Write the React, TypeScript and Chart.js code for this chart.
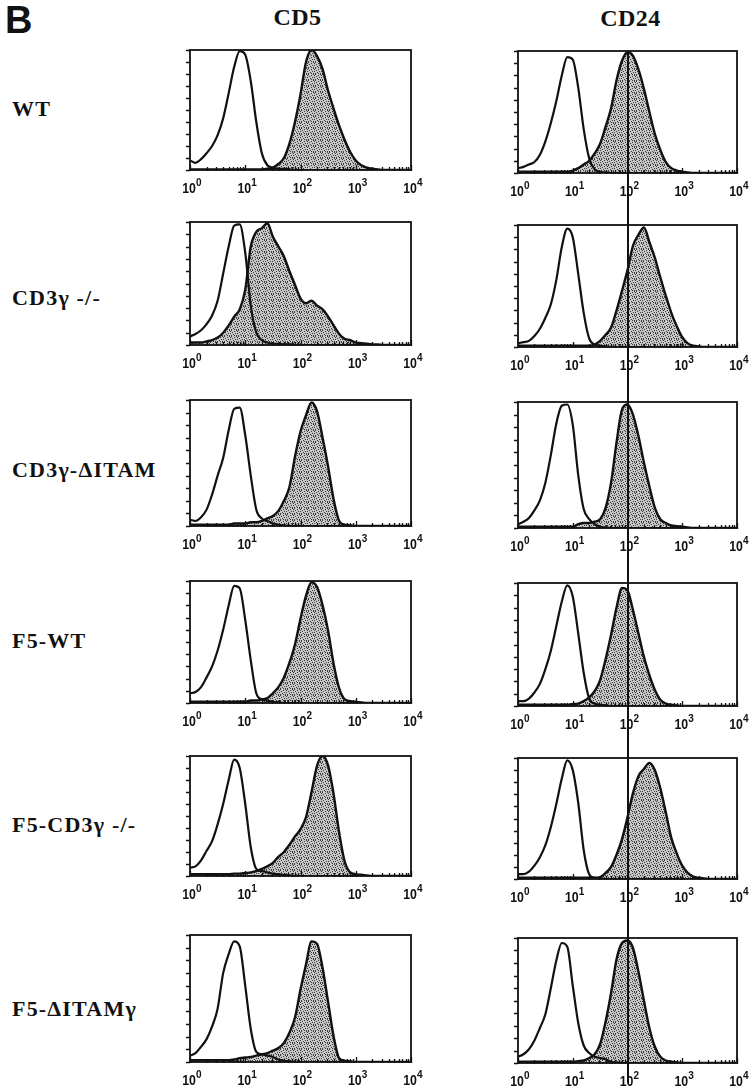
import React, { useEffect, useRef } from 'react';
import { Chart, registerables } from 'chart.js';

Chart.register(...registerables);

// ---------- data ----------
// histogram bins: log10 of fluorescence intensity (10^0 .. 10^4)
const logBins = [
  0.0, 0.1, 0.2, 0.3, 0.4, 0.5, 0.6, 0.7, 0.8, 0.9,
  1.0, 1.1, 1.2, 1.3, 1.4, 1.5, 1.6, 1.7, 1.8, 1.9,
  2.0, 2.1, 2.2, 2.3, 2.4, 2.5, 2.6, 2.7, 2.8, 2.9,
  3.0, 3.1, 3.2, 3.3, 3.4, 3.5, 3.6, 3.7, 3.8, 3.9, 4.0,
];

const columnTitles = ['CD5', 'CD24'];
const rowLabels = ['WT', 'CD3γ -/-', 'CD3γ-ΔITAM', 'F5-WT', 'F5-CD3γ -/-', 'F5-ΔITAMγ'];
const decadeValues = [1, 10, 100, 1000, 10000];
const decadeExponents = ['0', '1', '2', '3', '4'];
const countTicks = [0, 10, 20, 30, 40, 50, 60, 70, 80, 90, 100];
const cd24Marker = 100;

// relative cell counts (% of peak); "control" = open curve, "stain" = shaded curve
const wtCd5Control = [8, 6, 9, 14, 20, 29, 43, 64, 86, 99, 96, 74, 40, 14, 4, 2, 1, 1, 0.5, 0, 0, 0, 0, 0, 0, 0, 0, 0, 0, 0, 0, 0, 0, 0, 0, 0, 0, 0, 0, 0, 0];
const wtCd5Stain = [0.5, 0.5, 0.5, 0.5, 0.5, 0.5, 0.5, 0.5, 0.5, 0.5, 0.5, 0.5, 0.5, 0.5, 1, 2, 5, 10, 22, 40, 63, 90, 100, 95, 84, 66, 51, 37, 25, 15, 8, 4, 2, 1, 0.5, 0, 0, 0, 0, 0, 0];
const wtCd24Control = [4, 5, 7, 9, 15, 26, 41, 59, 80, 95, 93, 70, 36, 12, 3, 1, 0.5, 0, 0, 0, 0, 0, 0, 0, 0, 0, 0, 0, 0, 0, 0, 0, 0, 0, 0, 0, 0, 0, 0, 0, 0];
const wtCd24Stain = [1, 1, 1, 1, 1, 1, 1, 1, 1, 1, 2, 4, 7, 10, 16, 24, 38, 53, 76, 92, 99, 96, 85, 69, 50, 32, 19, 9, 4, 2, 1, 0.5, 0, 0, 0, 0, 0, 0, 0, 0, 0];

const cd3KoCd5Control = [7, 9, 12, 17, 24, 36, 58, 80, 97, 98, 75, 32, 10, 4, 2, 1, 1, 0.5, 0.5, 0, 0, 0, 0, 0, 0, 0, 0, 0, 0, 0, 0, 0, 0, 0, 0, 0, 0, 0, 0, 0, 0];
const cd3KoCd5Stain = [2, 2, 2, 3, 4, 6, 10, 16, 23, 29, 45, 80, 92, 95, 99, 88, 80, 72, 60, 49, 38, 34, 36, 32, 29, 23, 16, 9, 5, 4, 2, 1.5, 1, 0.5, 0.5, 0, 0, 0, 0, 0, 0];
const cd3KoCd24Control = [3, 4, 5, 9, 15, 24, 35, 55, 82, 97, 90, 60, 28, 7, 2, 1, 0.5, 0, 0, 0, 0, 0, 0, 0, 0, 0, 0, 0, 0, 0, 0, 0, 0, 0, 0, 0, 0, 0, 0, 0, 0];
const cd3KoCd24Stain = [1, 1, 1, 1, 1, 1, 1, 1, 1, 1, 1, 1, 1, 1, 2, 5, 10, 16, 30, 46, 63, 83, 92, 98, 86, 73, 57, 42, 28, 17, 8, 3, 1, 0.5, 0, 0, 0, 0, 0, 0, 0];

const itamCd5Control = [5, 4, 7, 13, 25, 40, 54, 76, 93, 94, 72, 40, 13, 6, 4, 2, 1, 0.5, 0, 0, 0, 0, 0, 0, 0, 0, 0, 0, 0, 0, 0, 0, 0, 0, 0, 0, 0, 0, 0, 0, 0];
const itamCd5Stain = [1, 1, 1, 1, 1, 1, 1, 1, 2, 2, 2, 3, 3, 4, 6, 8, 12, 20, 31, 55, 75, 88, 98, 91, 70, 47, 21, 4, 1, 0.5, 0, 0, 0, 0, 0, 0, 0, 0, 0, 0, 0];
const itamCd24Control = [3, 5, 8, 14, 22, 36, 58, 83, 97, 98, 82, 42, 15, 7, 3, 1, 0.5, 0, 0, 0, 0, 0, 0, 0, 0, 0, 0, 0, 0, 0, 0, 0, 0, 0, 0, 0, 0, 0, 0, 0, 0];
const itamCd24Stain = [1, 1, 1, 1, 1, 1, 1, 1, 1, 1, 1, 3, 4, 4, 5, 7, 16, 36, 68, 94, 98, 90, 73, 52, 33, 16, 7, 4, 2, 1.5, 1, 0.5, 0, 0, 0, 0, 0, 0, 0, 0, 0];

const f5WtCd5Control = [8, 9, 13, 21, 30, 43, 60, 80, 96, 94, 68, 35, 8, 3, 2, 1, 0.5, 0, 0, 0, 0, 0, 0, 0, 0, 0, 0, 0, 0, 0, 0, 0, 0, 0, 0, 0, 0, 0, 0, 0, 0];
const f5WtCd5Stain = [1, 1, 1, 1, 1, 1, 1, 1, 1, 1, 1, 2, 2, 3, 4, 8, 13, 21, 33, 48, 69, 88, 99, 95, 80, 59, 32, 12, 3, 1.5, 1, 0.5, 0, 0, 0, 0, 0, 0, 0, 0, 0];
const f5WtCd24Control = [4, 4, 6, 11, 18, 30, 45, 65, 85, 98, 89, 59, 27, 6, 2, 1, 0.5, 0, 0, 0, 0, 0, 0, 0, 0, 0, 0, 0, 0, 0, 0, 0, 0, 0, 0, 0, 0, 0, 0, 0, 0];
const f5WtCd24Stain = [1, 1, 1, 1, 1, 1, 1, 1, 1, 1, 1.5, 2, 4, 7, 12, 21, 38, 58, 80, 96, 94, 78, 59, 40, 25, 13, 5, 2, 1, 0.5, 0, 0, 0, 0, 0, 0, 0, 0, 0, 0, 0];

const f5KoCd5Control = [7, 8, 13, 21, 29, 43, 60, 80, 97, 90, 60, 24, 6, 4, 3, 2, 1.5, 1, 0.5, 0, 0, 0, 0, 0, 0, 0, 0, 0, 0, 0, 0, 0, 0, 0, 0, 0, 0, 0, 0, 0, 0];
const f5KoCd5Stain = [1.5, 1.5, 1.5, 1.5, 1.5, 1.5, 1.5, 1.5, 2, 2, 2.5, 3, 4, 6, 8, 11, 16, 20, 26, 33, 39, 49, 70, 92, 100, 92, 68, 36, 12, 3, 1.5, 1, 0.5, 0, 0, 0, 0, 0, 0, 0, 0];
const f5KoCd24Control = [4, 4, 6, 11, 18, 28, 43, 62, 83, 98, 90, 63, 24, 4, 1, 0.5, 0, 0, 0, 0, 0, 0, 0, 0, 0, 0, 0, 0, 0, 0, 0, 0, 0, 0, 0, 0, 0, 0, 0, 0, 0];
const f5KoCd24Stain = [1, 1, 1, 1, 1, 1, 1, 1, 1, 1, 1, 1, 1, 1, 1, 1.5, 5, 10, 20, 33, 51, 71, 85, 91, 96, 90, 75, 55, 34, 21, 11, 5, 2, 1, 0.5, 0, 0, 0, 0, 0, 0];

const f5ItamCd5Control = [5, 7, 12, 18, 28, 42, 70, 85, 95, 91, 60, 26, 8, 6, 5, 4, 2, 1, 0.5, 0, 0, 0, 0, 0, 0, 0, 0, 0, 0, 0, 0, 0, 0, 0, 0, 0, 0, 0, 0, 0, 0];
const f5ItamCd5Stain = [1.5, 1.5, 1.5, 1.5, 1.5, 1.5, 1.5, 1.5, 2, 3, 3.5, 4, 5, 6, 7, 9, 11, 15, 23, 35, 57, 77, 95, 93, 74, 47, 20, 3, 1, 0.5, 0, 0, 0, 0, 0, 0, 0, 0, 0, 0, 0];
const f5ItamCd24Control = [5, 7, 11, 18, 28, 39, 60, 82, 96, 93, 62, 32, 14, 8, 5, 4, 3, 1, 0.5, 0, 0, 0, 0, 0, 0, 0, 0, 0, 0, 0, 0, 0, 0, 0, 0, 0, 0, 0, 0, 0, 0];
const f5ItamCd24Stain = [1, 1, 1, 1, 1, 1, 1, 1, 1, 1, 1, 1.5, 2, 4, 7, 15, 33, 56, 83, 96, 98, 92, 73, 50, 28, 13, 5, 2, 1, 0.5, 0, 0, 0, 0, 0, 0, 0, 0, 0, 0, 0];

const panelSeries = [
  [wtCd5Control, wtCd5Stain, wtCd24Control, wtCd24Stain],
  [cd3KoCd5Control, cd3KoCd5Stain, cd3KoCd24Control, cd3KoCd24Stain],
  [itamCd5Control, itamCd5Stain, itamCd24Control, itamCd24Stain],
  [f5WtCd5Control, f5WtCd5Stain, f5WtCd24Control, f5WtCd24Stain],
  [f5KoCd5Control, f5KoCd5Stain, f5KoCd24Control, f5KoCd24Stain],
  [f5ItamCd5Control, f5ItamCd5Stain, f5ItamCd24Control, f5ItamCd24Stain],
];

// ---------- layout (page pixels) ----------
const BOX_LEFT = [190, 518];
const BOX_RIGHT = [411, 737];
const BOX_TOP = [[50, 51], [222, 225], [400, 402], [581, 583], [756, 758], [935, 938]];
const BOX_BOTTOM = [[170, 173], [345, 347], [526, 528], [703, 706], [876, 879], [1062, 1063]];
const LABEL_BASELINE = [116, 305, 477, 648, 832, 1016];
const PAGE_H = 1091;
const SIDE_PAD = 22;
const TOP_PAD = 12;

function makeStipple(ctx: CanvasRenderingContext2D) {
  const c = document.createElement('canvas');
  c.width = 7;
  c.height = 6;
  const g = c.getContext('2d')!;
  g.fillStyle = '#c6c6c6';
  g.fillRect(0, 0, 7, 6);
  g.fillStyle = '#3c3c3c';
  const dots = [[0, 0], [3, 1], [5, 0], [1, 2], [6, 3], [4, 3], [2, 4], [0, 5], [5, 5], [3, 5], [6, 1]];
  dots.forEach(([a, b]) => g.fillRect(a, b, 1, 1));
  return ctx.createPattern(c, 'repeat');
}

const framePlugin = {
  id: 'panelFrame',
  afterDatasetsDraw(chart: any, _args: any, opts: any) {
    const { ctx, chartArea: a, scales } = chart;
    const xs = scales.x;
    const ys = scales.y;
    ctx.save();
    ctx.strokeStyle = '#111';
    ctx.fillStyle = '#111';
    // frame
    ctx.lineWidth = 1.8;
    ctx.strokeRect(a.left, a.top, a.right - a.left, a.bottom - a.top);
    // left count ticks (outward)
    ctx.lineWidth = 1.3;
    ctx.beginPath();
    countTicks.forEach((v) => {
      const py = Math.round(ys.getPixelForValue(v)) + 0.5;
      ctx.moveTo(a.left - 4, py);
      ctx.lineTo(a.left, py);
    });
    ctx.stroke();
    // bottom log ticks (inward)
    ctx.beginPath();
    for (let d = 0; d < 4; d++) {
      for (let m = 1; m <= 9; m++) {
        const v = m * decadeValues[d];
        const px = Math.round(xs.getPixelForValue(v)) + 0.5;
        const len = m === 1 ? 5 : 3;
        ctx.moveTo(px, a.bottom + 1);
        ctx.lineTo(px, a.bottom - len);
      }
    }
    const pxEnd = Math.round(xs.getPixelForValue(decadeValues[4])) + 0.5;
    ctx.moveTo(pxEnd, a.bottom + 1);
    ctx.lineTo(pxEnd, a.bottom - 5);
    ctx.stroke();
    // tick labels 10^k
    decadeValues.forEach((v, k) => {
      const px = xs.getPixelForValue(v);
      ctx.save();
      ctx.translate(px - 1, a.bottom + 23);
      ctx.scale(0.88, 1);
      ctx.font = 'bold 14px "Liberation Sans"';
      ctx.textAlign = 'center';
      ctx.textBaseline = 'alphabetic';
      ctx.fillText('10', 0, 0);
      ctx.restore();
      ctx.font = 'bold 10px "Liberation Sans"';
      ctx.textAlign = 'left';
      ctx.fillText(decadeExponents[k], px + 6, a.bottom + 16);
    });
    // vertical marker on CD24 column
    if (opts.col === 1) {
      const vx = Math.round(xs.getPixelForValue(cd24Marker));
      const y0 = opts.row === 0 ? a.top : 0;
      const y1 = opts.row === 5 ? a.bottom + 20 : chart.height;
      ctx.lineWidth = 2;
      ctx.beginPath();
      ctx.moveTo(vx, y0);
      ctx.lineTo(vx, y1);
      ctx.stroke();
    }
    ctx.restore();
  },
};

function Panel({ row, col }: { row: number; col: number }) {
  const ref = useRef<HTMLCanvasElement>(null);
  const boxTop = BOX_TOP[row][col];
  const boxBottom = BOX_BOTTOM[row][col];
  const canvasTop = boxTop - TOP_PAD;
  const nextTop = row < 5 ? BOX_TOP[row + 1][col] - TOP_PAD : PAGE_H;
  const height = nextTop - canvasTop;
  const canvasLeft = BOX_LEFT[col] - SIDE_PAD;
  const width = BOX_RIGHT[col] - BOX_LEFT[col] + 2 * SIDE_PAD;
  const bottomPad = height - TOP_PAD - (boxBottom - boxTop);

  useEffect(() => {
    const canvas = ref.current!;
    const ctx = canvas.getContext('2d')!;
    const control = panelSeries[row][col * 2];
    const stain = panelSeries[row][col * 2 + 1];
    const toPoints = (vals: number[]) => vals.map((y, i) => ({ x: Math.pow(10, logBins[i]), y }));
    const chart = new Chart(ctx, {
      type: 'line',
      data: {
        datasets: [
          {
            label: 'control',
            data: toPoints(control),
            borderColor: '#111',
            borderWidth: 2.2,
            pointRadius: 0,
            fill: false,
            cubicInterpolationMode: 'monotone',
          },
          {
            label: 'stain',
            data: toPoints(stain),
            borderColor: '#111',
            borderWidth: 2.4,
            pointRadius: 0,
            fill: 'origin',
            backgroundColor: makeStipple(ctx) as any,
            cubicInterpolationMode: 'monotone',
          },
        ],
      },
      options: {
        animation: false,
        responsive: false,
        maintainAspectRatio: false,
        events: [],
        layout: { padding: { left: SIDE_PAD, right: SIDE_PAD, top: TOP_PAD, bottom: bottomPad } },
        scales: {
          x: { type: 'logarithmic', min: 1, max: 10000, display: false },
          y: { type: 'linear', min: 0, max: 100, display: false },
        },
        plugins: {
          legend: { display: false },
          tooltip: { enabled: false },
          panelFrame: { row, col },
        } as any,
      },
      plugins: [framePlugin],
    } as any);
    return () => chart.destroy();
  }, [row, col, bottomPad]);

  return (
    <canvas
      ref={ref}
      width={width}
      height={height}
      style={{ position: 'absolute', left: canvasLeft, top: canvasTop, width, height }}
    />
  );
}

function TextAt({ text, x, baseline, size, family, align, spacing }: any) {
  const top = baseline - size * 0.84;
  const style: React.CSSProperties = {
    position: 'absolute',
    top,
    fontFamily: family,
    fontWeight: 'bold',
    fontSize: size,
    lineHeight: `${size}px`,
    whiteSpace: 'nowrap',
    letterSpacing: spacing || 0,
    color: '#111',
  };
  if (align === 'center') {
    style.left = x - 100;
    style.width = 200;
    style.textAlign = 'center';
  } else {
    style.left = x;
  }
  return <div style={style}>{text}</div>;
}

export default function App() {
  const colCenters = [(BOX_LEFT[0] + BOX_RIGHT[0]) / 2 - 3, (BOX_LEFT[1] + BOX_RIGHT[1]) / 2 + 3];
  return (
    <div style={{ position: 'absolute', left: 0, top: 0, width: 752, height: PAGE_H, background: '#fff', overflow: 'hidden' }}>
      <TextAt text="B" x={5} baseline={33} size={38} family='"Liberation Sans", Arial, sans-serif' />
      {columnTitles.map((t, c) => (
        <TextAt key={t} text={t} x={colCenters[c]} baseline={c === 0 ? 25 : 26} size={24} family='"Liberation Serif", serif' align="center" spacing={0.5} />
      ))}
      {rowLabels.map((t, r) => (
        <TextAt key={t} text={t} x={12} baseline={LABEL_BASELINE[r]} size={22} family='"Liberation Serif", serif' spacing={1.2} />
      ))}
      {rowLabels.map((_, r) => [0, 1].map((c) => <Panel key={`${r}-${c}`} row={r} col={c} />))}
    </div>
  );
}
